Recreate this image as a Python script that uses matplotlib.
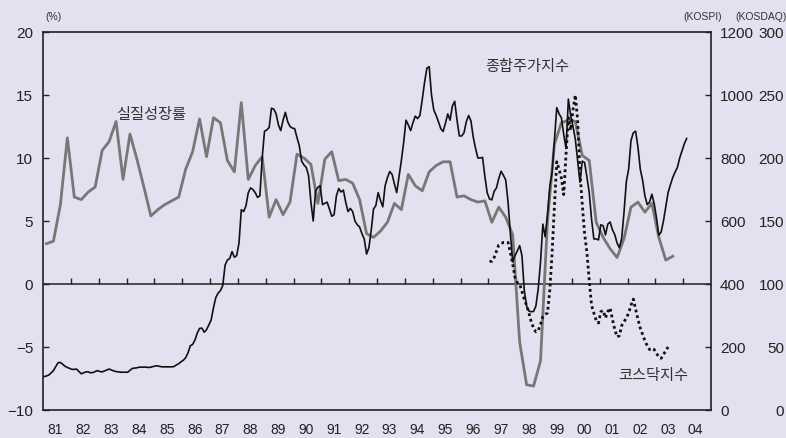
import matplotlib
matplotlib.use("Agg")
import matplotlib.pyplot as plt
import numpy as np

plt.rcParams['font.family'] = ['Liberation Sans', 'Noto Sans CJK KR']

# ---------------- data ----------------
years = list(range(1981, 2005))
year_labels = [f"{y % 100:02d}" for y in years]

# Real GDP growth (%), quarterly, 1981Q1 - 2003Q3
growth = [3.2, 3.4, 6.3, 11.6,
          6.9, 6.7, 7.3, 7.7,
          10.6, 11.3, 12.9, 8.3,
          11.9, 9.9, 7.7, 5.4,
          5.9, 6.3, 6.6, 6.9,
          9.1, 10.5, 13.1, 10.1,
          13.2, 12.8, 9.8, 8.9,
          14.4, 8.3, 9.4, 10.1,
          5.3, 6.7, 5.5, 6.5,
          10.3, 10.0, 9.5, 6.4,
          9.9, 10.5, 8.2, 8.3,
          8.0, 6.7, 4.0, 3.7,
          4.2, 4.9, 6.4, 5.9,
          8.7, 7.8, 7.4, 8.9,
          9.4, 9.7, 9.7, 6.9,
          7.0, 6.7, 6.5, 6.6,
          4.9, 6.1, 5.3, 3.9,
          -4.6, -8.0, -8.1, -6.1,
          5.0, 11.1, 12.8, 13.0,
          12.9, 10.2, 9.8, 4.9,
          3.7, 2.8, 2.1, 3.6,
          6.1, 6.5, 5.7, 6.4,
          3.7, 1.9, 2.2]

# KOSPI, monthly, 1981-01 .. 2004-02
kospi = [106, 108, 111, 118, 125, 138, 150, 151, 145, 139, 135, 132,
         129, 129, 130, 122, 115, 118, 121, 121, 118, 119, 122, 125,
         122, 121, 124, 127, 130, 127, 124, 122, 121, 120, 120, 120,
         120, 126, 132, 133, 134, 136, 136, 136, 136, 135, 136, 138,
         140, 140, 138, 137, 137, 137, 137, 137, 138, 143, 147, 153,
         158, 166, 181, 204, 208, 222, 244, 259, 260, 247, 255, 270,
         286, 325, 357, 371, 379, 395, 460, 476, 481, 503, 485, 490,
         530, 636, 630, 648, 690, 705, 700, 690, 675, 680, 800, 885,
         889, 897, 958, 955, 940, 905, 887, 920, 945, 915, 900, 895,
         893, 865, 839, 790, 778, 770, 744, 660, 600, 695, 707, 712,
         652, 656, 660, 637, 615, 620, 680, 703, 692, 698, 660, 630,
         640, 630, 600, 588, 581, 560, 543, 495, 515, 570, 638, 649,
         690, 665, 645, 712, 738, 757, 748, 718, 690, 740, 792, 850,
         920, 905, 887, 912, 933, 925, 935, 985, 1040, 1085, 1090, 1000,
         952, 935, 915, 893, 884, 910, 940, 920, 965, 980, 920, 870,
         870, 880, 915, 935, 918, 866, 830, 800, 800, 802, 742, 690,
         670, 667, 694, 705, 735, 758, 745, 730, 660, 560, 470, 490,
         505, 522, 490, 380, 330, 314, 312, 313, 330, 384, 470, 590,
         550, 620, 710, 755, 860, 960, 940, 928, 875, 830, 987, 935,
         900, 860, 790, 723, 790, 786, 740, 690, 606, 543, 543, 540,
         588, 585, 556, 590, 597, 572, 557, 530, 515, 545, 628, 725,
         765, 855, 880, 885, 835, 765, 730, 680, 652, 660, 685, 655,
         610, 555, 565, 600, 645, 690, 715, 738, 755, 770, 800, 822,
         845, 862]

# KOSDAQ, monthly, 1997-01 .. 2003-06
kosdaq = [118, 118, 121, 126, 131, 132, 133, 133, 133, 125, 116, 105,
          101, 100, 94, 88, 83, 77, 70, 65, 62, 63, 68, 74,
          76, 77, 95, 125, 162, 197, 191, 184, 171, 203, 232, 222,
          238, 250, 230, 189, 163, 140, 125, 103, 83, 77, 71, 69,
          78, 79, 73, 78, 81, 72, 64, 58, 59, 67, 70, 73,
          77, 83, 88, 80, 72, 65, 60, 55, 51, 48, 49, 48,
          45, 42, 41, 44, 47, 50]

t_growth = 1981 + (np.arange(len(growth)) + 0.5) / 4
t_kospi = 1981 + (np.arange(len(kospi)) + 0.5) / 12
t_kosdaq = 1997 + (np.arange(len(kosdaq)) + 0.5) / 12

# ---------------- figure ----------------
bg = '#E1E1EF'
fig = plt.figure(figsize=(7.86, 4.39), dpi=100, facecolor=bg)
ax = fig.add_axes([43/786, 1 - 411/439, (711-43)/786, (411-33)/439])
ax.set_facecolor(bg)

ax.plot(t_growth, growth, color='#777777', lw=2.0, zorder=2)
ax.set_xlim(1981, 2005)
ax.set_ylim(-10, 20)
ax.set_yticks([-10, -5, 0, 5, 10, 15, 20])
ax.set_yticklabels(['\u221210', '\u22125', '0', '5', '10', '15', '20'])
ax.tick_params(axis='y', direction='in', length=4, width=1, pad=7,
               labelsize=11, colors='#222222')
ax.set_xticks([])
ax.set_xticks([y + 0.45 for y in years], minor=True)
ax.set_xticklabels(year_labels, minor=True)
ax.tick_params(axis='x', which='minor', length=0, pad=9, labelsize=10,
               colors='#222222')
for s in ax.spines.values():
    s.set_color('#222222')
    s.set_linewidth(1.2)

ax.axhline(0, color='#222222', lw=1.1, zorder=1)
sec = ax.secondary_xaxis(1/3)
sec.set_xticks(years[1:])
sec.tick_params(direction='in', length=4, width=1, labelbottom=False,
                colors='#222222')
sec.spines['bottom'].set_visible(False)

ax2 = ax.twinx()
ax2.plot(t_kospi, kospi, color='#111111', lw=1.2, zorder=3)
ax2.set_ylim(0, 1200)
ax2.set_yticks([0, 200, 400, 600, 800, 1000, 1200])
ax2.tick_params(axis='y', direction='in', length=4, width=1, pad=6.5,
                labelsize=11, colors='#222222')
for s in ax2.spines.values():
    s.set_visible(False)

ax3 = ax.twinx()
ax3.plot(t_kosdaq, kosdaq, color='#111111', lw=2.0,
         linestyle=(0, (1, 1.1)), zorder=4)
ax3.set_ylim(0, 300)
ax3.set_yticks([0, 50, 100, 150, 200, 250, 300])
ax3.tick_params(axis='y', direction='in', length=0, pad=52.5,
                labelsize=11, colors='#222222')
for lab in ax3.get_yticklabels():
    lab.set_horizontalalignment('right')
for s in ax3.spines.values():
    s.set_visible(False)

# series labels
ax.text(1984.9, 13.5, '실질성장률', ha='center', va='center',
        fontsize=11, color='#333333')
ax.text(1998.4, 17.3, '종합주가지수', ha='center', va='center',
        fontsize=11, color='#333333')
ax.text(2002.94, -7.2, '코스닥지수', ha='center', va='center',
        fontsize=11, color='#333333')

# unit labels
fig.text(45/786, 1 - 17/439, '(%)', ha='left', va='center', fontsize=7.5,
         color='#333333')
fig.text(703/786, 1 - 17/439, '(KOSPI)', ha='center', va='center',
         fontsize=7.5, color='#333333')
fig.text(761/786, 1 - 17/439, '(KOSDAQ)', ha='center', va='center',
         fontsize=7.5, color='#333333')

fig.savefig('out.png', dpi=100, facecolor=bg)
